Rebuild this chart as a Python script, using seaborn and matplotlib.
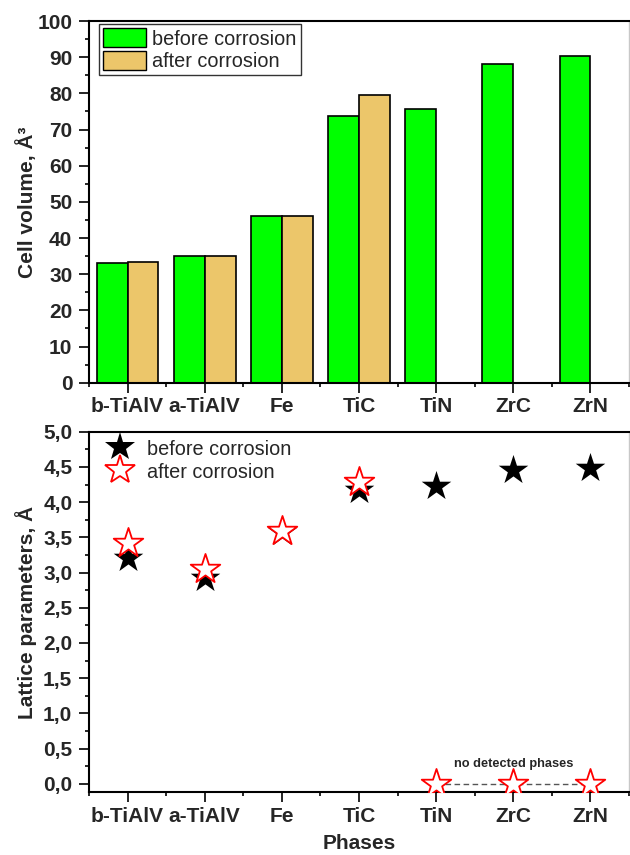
import numpy as np
import pandas as pd
import matplotlib
matplotlib.use("Agg")
import matplotlib.pyplot as plt
from matplotlib.ticker import MultipleLocator, FixedLocator, FuncFormatter
from matplotlib.patches import Patch
from matplotlib.lines import Line2D
import seaborn as sns

# ---------------- data ----------------
phases = ["b-TiAlV", "a-TiAlV", "Fe", "TiC", "TiN", "ZrC", "ZrN"]
vol_before = [33.0, 35.0, 46.2, 73.8, 75.8, 88.2, 90.2]
vol_after = [33.3, 34.9, 46.1, 79.6, np.nan, np.nan, np.nan]
lat_before = [3.20, 2.92, 3.58, 4.17, 4.23, 4.46, 4.49]
lat_after = [3.42, 3.05, 3.59, 4.29, 0.0, 0.0, 0.0]
states = ["before corrosion", "after corrosion"]

GREEN = "#00FF00"
TAN = "#ECC66A"

sns.set_theme(style="ticks")
plt.rcParams["font.family"] = ["Liberation Sans", "DejaVu Sans"]
plt.rcParams["axes.linewidth"] = 1.2

fig = plt.figure(figsize=(6.3, 8.55), dpi=100)
W, H = 630, 855
def add_ax(x0, y0, x1, y1):
    return fig.add_axes([x0 / W, 1 - y1 / H, (x1 - x0) / W, (y1 - y0) / H])

ax1 = add_ax(89, 21, 629, 382.7)
ax2 = add_ax(89, 431.7, 629, 792.3)

LEGFS = 14.3
TICKFS = 15

# ---------------- top: bars ----------------
df_vol = pd.DataFrame({
    "phase": phases * 2,
    "state": [states[0]] * len(phases) + [states[1]] * len(phases),
    "volume": vol_before + vol_after,
})
sns.barplot(data=df_vol, x="phase", y="volume", hue="state", order=phases,
            hue_order=states, palette=[GREEN, TAN], saturation=1,
            edgecolor="black", linewidth=1.2, errorbar=None, ax=ax1,
            legend=False, width=0.8)
ax1.set_ylim(0, 100)
ax1.set_xlim(-0.5, 6.5)
ax1.yaxis.set_major_locator(MultipleLocator(10))
ax1.yaxis.set_minor_locator(MultipleLocator(5))
ax1.set_ylabel("Cell volume, Å³", fontsize=15, fontweight="bold")
ax1.set_xlabel("")
leg1 = ax1.legend(handles=[Patch(facecolor=GREEN, edgecolor="black", linewidth=1.0),
                           Patch(facecolor=TAN, edgecolor="black", linewidth=1.0)],
                  labels=states, loc="upper left", bbox_to_anchor=(0.018, 0.991),
                  borderaxespad=0, fontsize=LEGFS, frameon=True, fancybox=False,
                  handlelength=2.2, handleheight=1.1, handletextpad=0.3,
                  labelspacing=0.12, borderpad=0.2)
leg1.get_frame().set_edgecolor("black")
leg1.get_frame().set_linewidth(1.0)

# ---------------- bottom: lattice parameters ----------------
df_lat = pd.DataFrame({"phase": phases, "before": lat_before, "after": lat_after})
sns.scatterplot(data=df_lat, x="phase", y="before", marker="*", s=500,
                color="black", linewidth=0, ax=ax2, legend=False, zorder=3)
sns.lineplot(data=df_lat[df_lat["after"] == 0], x="phase", y="after", ax=ax2,
             color="#555555", linestyle=(0, (4, 2.5)), linewidth=1.0, zorder=2)
sns.scatterplot(data=df_lat, x="phase", y="after", marker="*", s=500,
                color="white", edgecolor="red", linewidth=1.3, ax=ax2,
                legend=False, zorder=4)
ax2.set_ylim(-0.12, 5.0)
ax2.set_xlim(-0.5, 6.5)
ax2.yaxis.set_major_locator(MultipleLocator(0.5))
ax2.yaxis.set_minor_locator(MultipleLocator(0.25))
ax2.yaxis.set_major_formatter(FuncFormatter(lambda v, p: f"{v:.1f}".replace(".", ",")))
ax2.set_ylabel("Lattice parameters, Å", fontsize=15, fontweight="bold")
ax2.set_xlabel("Phases", fontsize=15, fontweight="bold", labelpad=6)
ax2.text(df_lat.index[5], 0.28, "no detected phases", ha="center", va="center",
         fontsize=9.2, fontweight="bold")
leg2 = ax2.legend(handles=[Line2D([], [], ls="none", marker="*", markersize=22,
                                  color="black", markeredgewidth=0),
                           Line2D([], [], ls="none", marker="*", markersize=22,
                                  markerfacecolor="white", markeredgecolor="red",
                                  markeredgewidth=1.3)],
                  labels=states, loc="upper left", bbox_to_anchor=(0.019, 0.993),
                  borderaxespad=0, fontsize=LEGFS, frameon=False,
                  handlelength=1.7, handleheight=1.2, handletextpad=0.5,
                  labelspacing=0.12, borderpad=0.2)

# ---------------- common styling ----------------
for ax in (ax1, ax2):
    ax.set_xticks(range(len(phases)))
    ax.set_xticklabels(phases)
    ax.xaxis.set_minor_locator(FixedLocator(np.arange(-0.5, len(phases), 1.0)))
    ax.tick_params(axis="both", which="major", direction="out", length=7,
                   width=1.2, labelsize=TICKFS, pad=3.5, color="black")
    ax.tick_params(axis="both", which="minor", direction="out", length=3,
                   width=1.2, color="black")
    ax.tick_params(axis="y", which="major", pad=5)
    for lab in ax.get_xticklabels() + ax.get_yticklabels():
        lab.set_fontweight("bold")
    for side in ("left", "bottom", "top"):
        ax.spines[side].set_visible(True)
        ax.spines[side].set_color("black")
        ax.spines[side].set_linewidth(1.5)
    ax.spines["right"].set_visible(True)
    ax.spines["right"].set_color("#C8C8C8")
    ax.spines["right"].set_linewidth(1.0)
    ax.yaxis.set_label_coords(-0.097, 0.5)

fig.savefig("out.png", dpi=100)
